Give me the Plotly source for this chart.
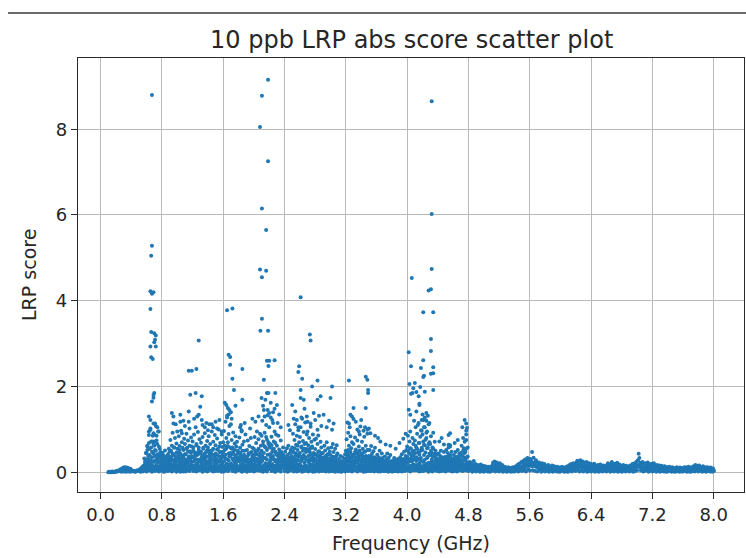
import plotly.graph_objects as go

# ---------------------------------------------------------------------------
# LRP absolute scores along the frequency sweep (GHz)
# ---------------------------------------------------------------------------

# 0.10 - 0.59 GHz: quiet low band
low_freq = [
    0.10, 0.11, 0.12, 0.13, 0.14, 0.15, 0.16, 0.17, 0.18, 0.19,
    0.20, 0.21, 0.22, 0.23, 0.24, 0.25, 0.26, 0.27, 0.28, 0.29,
    0.30, 0.31, 0.32, 0.33, 0.34, 0.35, 0.36, 0.37, 0.38, 0.39,
    0.40, 0.41, 0.42, 0.43, 0.44, 0.45, 0.46, 0.47, 0.48, 0.49,
    0.50, 0.51, 0.52, 0.53, 0.54, 0.55, 0.56, 0.57, 0.58, 0.59,
    0.27, 0.30, 0.33, 0.36, 0.39, 0.52, 0.55, 0.58,
]
low_score = [
    0.00, 0.01, 0.00, 0.01, 0.00, 0.02, 0.01, 0.00, 0.01, 0.02,
    0.01, 0.03, 0.02, 0.04, 0.03, 0.05, 0.07, 0.06, 0.09, 0.08,
    0.11, 0.10, 0.12, 0.09, 0.11, 0.08, 0.10, 0.07, 0.06, 0.08,
    0.05, 0.04, 0.03, 0.02, 0.03, 0.01, 0.02, 0.04, 0.03, 0.05,
    0.04, 0.07, 0.05, 0.09, 0.12, 0.08, 0.15, 0.11, 0.20, 0.18,
    0.01, 0.02, 0.01, 0.02, 0.01, 0.01, 0.02, 0.04,
]

# 0.60 - 4.79 GHz: active band, several readings per frequency step
core_freq = [
    0.60, 0.61, 0.62, 0.63, 0.64, 0.65, 0.66, 0.67, 0.68, 0.69,
    0.70, 0.71, 0.72, 0.73, 0.74, 0.75, 0.76, 0.77, 0.78, 0.79,
    0.80, 0.81, 0.82, 0.83, 0.84, 0.85, 0.86, 0.87, 0.88, 0.89,
    0.90, 0.91, 0.92, 0.93, 0.94, 0.95, 0.96, 0.97, 0.98, 0.99,
    1.00, 1.01, 1.02, 1.03, 1.04, 1.05, 1.06, 1.07, 1.08, 1.09,
    1.10, 1.11, 1.12, 1.13, 1.14, 1.15, 1.16, 1.17, 1.18, 1.19,
    1.20, 1.21, 1.22, 1.23, 1.24, 1.25, 1.26, 1.27, 1.28, 1.29,
    1.30, 1.31, 1.32, 1.33, 1.34, 1.35, 1.36, 1.37, 1.38, 1.39,
    1.40, 1.41, 1.42, 1.43, 1.44, 1.45, 1.46, 1.47, 1.48, 1.49,
    1.50, 1.51, 1.52, 1.53, 1.54, 1.55, 1.56, 1.57, 1.58, 1.59,
    1.60, 1.61, 1.62, 1.63, 1.64, 1.65, 1.66, 1.67, 1.68, 1.69,
    1.70, 1.71, 1.72, 1.73, 1.74, 1.75, 1.76, 1.77, 1.78, 1.79,
    1.80, 1.81, 1.82, 1.83, 1.84, 1.85, 1.86, 1.87, 1.88, 1.89,
    1.90, 1.91, 1.92, 1.93, 1.94, 1.95, 1.96, 1.97, 1.98, 1.99,
    2.00, 2.01, 2.02, 2.03, 2.04, 2.05, 2.06, 2.07, 2.08, 2.09,
    2.10, 2.11, 2.12, 2.13, 2.14, 2.15, 2.16, 2.17, 2.18, 2.19,
    2.20, 2.21, 2.22, 2.23, 2.24, 2.25, 2.26, 2.27, 2.28, 2.29,
    2.30, 2.31, 2.32, 2.33, 2.34, 2.35, 2.36, 2.37, 2.38, 2.39,
    2.40, 2.41, 2.42, 2.43, 2.44, 2.45, 2.46, 2.47, 2.48, 2.49,
    2.50, 2.51, 2.52, 2.53, 2.54, 2.55, 2.56, 2.57, 2.58, 2.59,
    2.60, 2.61, 2.62, 2.63, 2.64, 2.65, 2.66, 2.67, 2.68, 2.69,
    2.70, 2.71, 2.72, 2.73, 2.74, 2.75, 2.76, 2.77, 2.78, 2.79,
    2.80, 2.81, 2.82, 2.83, 2.84, 2.85, 2.86, 2.87, 2.88, 2.89,
    2.90, 2.91, 2.92, 2.93, 2.94, 2.95, 2.96, 2.97, 2.98, 2.99,
    3.00, 3.01, 3.02, 3.03, 3.04, 3.05, 3.06, 3.07, 3.08, 3.09,
    3.10, 3.11, 3.12, 3.13, 3.14, 3.15, 3.16, 3.17, 3.18, 3.19,
    3.20, 3.21, 3.22, 3.23, 3.24, 3.25, 3.26, 3.27, 3.28, 3.29,
    3.30, 3.31, 3.32, 3.33, 3.34, 3.35, 3.36, 3.37, 3.38, 3.39,
    3.40, 3.41, 3.42, 3.43, 3.44, 3.45, 3.46, 3.47, 3.48, 3.49,
    3.50, 3.51, 3.52, 3.53, 3.54, 3.55, 3.56, 3.57, 3.58, 3.59,
    3.60, 3.61, 3.62, 3.63, 3.64, 3.65, 3.66, 3.67, 3.68, 3.69,
    3.70, 3.71, 3.72, 3.73, 3.74, 3.75, 3.76, 3.77, 3.78, 3.79,
    3.80, 3.81, 3.82, 3.83, 3.84, 3.85, 3.86, 3.87, 3.88, 3.89,
    3.90, 3.91, 3.92, 3.93, 3.94, 3.95, 3.96, 3.97, 3.98, 3.99,
    4.00, 4.01, 4.02, 4.03, 4.04, 4.05, 4.06, 4.07, 4.08, 4.09,
    4.10, 4.11, 4.12, 4.13, 4.14, 4.15, 4.16, 4.17, 4.18, 4.19,
    4.20, 4.21, 4.22, 4.23, 4.24, 4.25, 4.26, 4.27, 4.28, 4.29,
    4.30, 4.31, 4.32, 4.33, 4.34, 4.35, 4.36, 4.37, 4.38, 4.39,
    4.40, 4.41, 4.42, 4.43, 4.44, 4.45, 4.46, 4.47, 4.48, 4.49,
    4.50, 4.51, 4.52, 4.53, 4.54, 4.55, 4.56, 4.57, 4.58, 4.59,
    4.60, 4.61, 4.62, 4.63, 4.64, 4.65, 4.66, 4.67, 4.68, 4.69,
    4.70, 4.71, 4.72, 4.73, 4.74, 4.75, 4.76, 4.77, 4.78, 4.79,
]
# lowest reading at each step
core_base = [
    0.02, 0.09, 0.15, 0.04, 0.12, 0.07, 0.17, 0.01, 0.10, 0.06,
    0.13, 0.03, 0.08, 0.16, 0.05, 0.11, 0.02, 0.14, 0.09, 0.18,
    0.06, 0.12, 0.01, 0.09, 0.15, 0.04, 0.10, 0.13, 0.03, 0.08,
    0.11, 0.05, 0.17, 0.02, 0.08, 0.14, 0.06, 0.10, 0.16, 0.01,
    0.04, 0.15, 0.09, 0.12, 0.01, 0.07, 0.18, 0.05, 0.11, 0.13,
    0.16, 0.02, 0.10, 0.06, 0.14, 0.09, 0.03, 0.17, 0.07, 0.12,
    0.08, 0.13, 0.04, 0.11, 0.17, 0.02, 0.09, 0.15, 0.05, 0.10,
    0.14, 0.06, 0.12, 0.01, 0.09, 0.16, 0.04, 0.11, 0.18, 0.07,
    0.03, 0.10, 0.16, 0.07, 0.13, 0.05, 0.12, 0.02, 0.08, 0.15,
    0.12, 0.17, 0.05, 0.14, 0.03, 0.10, 0.07, 0.16, 0.01, 0.09,
    0.07, 0.02, 0.13, 0.09, 0.18, 0.06, 0.11, 0.04, 0.14, 0.10,
    0.15, 0.08, 0.03, 0.12, 0.06, 0.16, 0.01, 0.09, 0.13, 0.05,
    0.05, 0.14, 0.10, 0.17, 0.02, 0.11, 0.08, 0.15, 0.04, 0.12,
    0.10, 0.01, 0.07, 0.13, 0.16, 0.03, 0.14, 0.06, 0.11, 0.17,
    0.02, 0.11, 0.16, 0.05, 0.09, 0.13, 0.04, 0.18, 0.08, 0.03,
    0.13, 0.06, 0.01, 0.15, 0.11, 0.08, 0.17, 0.02, 0.12, 0.14,
    0.09, 0.17, 0.12, 0.03, 0.07, 0.15, 0.05, 0.10, 0.01, 0.06,
    0.16, 0.04, 0.08, 0.11, 0.14, 0.02, 0.09, 0.13, 0.17, 0.11,
    0.03, 0.12, 0.15, 0.07, 0.01, 0.10, 0.16, 0.04, 0.08, 0.13,
    0.11, 0.07, 0.02, 0.14, 0.17, 0.05, 0.12, 0.09, 0.03, 0.15,
    0.06, 0.16, 0.10, 0.01, 0.08, 0.13, 0.03, 0.15, 0.11, 0.07,
    0.12, 0.02, 0.14, 0.09, 0.04, 0.17, 0.07, 0.01, 0.13, 0.10,
    0.17, 0.08, 0.05, 0.12, 0.15, 0.02, 0.10, 0.14, 0.06, 0.03,
    0.04, 0.13, 0.09, 0.16, 0.02, 0.11, 0.15, 0.07, 0.12, 0.08,
    0.10, 0.03, 0.15, 0.06, 0.12, 0.08, 0.01, 0.13, 0.05, 0.14,
    0.02, 0.06, 0.03, 0.08, 0.01, 0.05, 0.09, 0.04, 0.07, 0.02,
    0.08, 0.14, 0.11, 0.03, 0.16, 0.06, 0.12, 0.09, 0.02, 0.13,
    0.15, 0.05, 0.09, 0.13, 0.07, 0.02, 0.11, 0.16, 0.04, 0.10,
    0.04, 0.11, 0.16, 0.01, 0.10, 0.14, 0.06, 0.12, 0.08, 0.03,
    0.12, 0.07, 0.03, 0.10, 0.14, 0.05, 0.09, 0.02, 0.11, 0.08,
    0.06, 0.10, 0.02, 0.12, 0.04, 0.09, 0.13, 0.05, 0.11, 0.03,
    0.03, 0.07, 0.11, 0.05, 0.09, 0.02, 0.12, 0.06, 0.04, 0.10,
    0.08, 0.02, 0.06, 0.10, 0.03, 0.07, 0.05, 0.11, 0.02, 0.09,
    0.04, 0.09, 0.12, 0.02, 0.10, 0.06, 0.13, 0.03, 0.08, 0.11,
    0.10, 0.04, 0.14, 0.07, 0.02, 0.12, 0.09, 0.16, 0.05, 0.11,
    0.06, 0.13, 0.09, 0.17, 0.04, 0.11, 0.02, 0.14, 0.08, 0.12,
    0.14, 0.03, 0.11, 0.07, 0.16, 0.05, 0.10, 0.13, 0.01, 0.09,
    0.05, 0.12, 0.16, 0.02, 0.09, 0.14, 0.06, 0.11, 0.15, 0.03,
    0.11, 0.06, 0.02, 0.13, 0.08, 0.10, 0.15, 0.04, 0.09, 0.12,
    0.02, 0.14, 0.07, 0.11, 0.05, 0.16, 0.09, 0.03, 0.13, 0.08,
    0.13, 0.08, 0.12, 0.04, 0.10, 0.02, 0.14, 0.07, 0.05, 0.11,
    0.07, 0.11, 0.03, 0.15, 0.12, 0.06, 0.09, 0.17, 0.04, 0.13,
]
# floor reading at each step
core_floor = [
    0.05, 0.22, 0.12, 0.31, 0.08, 0.18, 0.27, 0.04, 0.15, 0.24,
    0.10, 0.28, 0.06, 0.19, 0.33, 0.12, 0.25, 0.03, 0.21, 0.14,
    0.05, 0.18, 0.09, 0.24, 0.02, 0.13, 0.20, 0.07, 0.15, 0.11,
    0.08, 0.21, 0.14, 0.30, 0.04, 0.17, 0.26, 0.11, 0.19, 0.06,
    0.13, 0.27, 0.05, 0.20, 0.32, 0.09, 0.23, 0.16, 0.02, 0.25,
    0.07, 0.19, 0.29, 0.12, 0.22, 0.04, 0.17, 0.31, 0.10, 0.24,
    0.16, 0.03, 0.25, 0.11, 0.30, 0.08, 0.21, 0.14, 0.27, 0.06,
    0.09, 0.23, 0.15, 0.28, 0.05, 0.19, 0.33, 0.12, 0.24, 0.02,
    0.18, 0.07, 0.26, 0.13, 0.21, 0.04, 0.29, 0.10, 0.16, 0.23,
    0.03, 0.20, 0.12, 0.27, 0.08, 0.24, 0.15, 0.31, 0.06, 0.18,
    0.14, 0.25, 0.06, 0.32, 0.11, 0.20, 0.03, 0.28, 0.17, 0.09,
    0.21, 0.08, 0.17, 0.29, 0.04, 0.24, 0.13, 0.19, 0.06, 0.27,
    0.11, 0.26, 0.07, 0.18, 0.30, 0.02, 0.22, 0.15, 0.09, 0.25,
    0.05, 0.16, 0.28, 0.10, 0.23, 0.13, 0.04, 0.20, 0.31, 0.08,
    0.17, 0.03, 0.24, 0.12, 0.29, 0.07, 0.19, 0.26, 0.10, 0.22,
    0.09, 0.27, 0.14, 0.33, 0.05, 0.21, 0.12, 0.30, 0.18, 0.07,
    0.23, 0.11, 0.28, 0.06, 0.19, 0.31, 0.14, 0.02, 0.25, 0.16,
    0.08, 0.20, 0.13, 0.26, 0.04, 0.17, 0.29, 0.10, 0.22, 0.15,
    0.12, 0.05, 0.21, 0.16, 0.27, 0.03, 0.19, 0.09, 0.24, 0.14,
    0.06, 0.22, 0.15, 0.30, 0.09, 0.25, 0.02, 0.18, 0.28, 0.11,
    0.19, 0.08, 0.26, 0.13, 0.32, 0.05, 0.22, 0.16, 0.29, 0.04,
    0.14, 0.24, 0.07, 0.20, 0.11, 0.28, 0.03, 0.17, 0.25, 0.10,
    0.02, 0.18, 0.27, 0.09, 0.23, 0.13, 0.30, 0.06, 0.20, 0.15,
    0.11, 0.25, 0.04, 0.19, 0.14, 0.28, 0.08, 0.22, 0.02, 0.17,
    0.07, 0.16, 0.23, 0.03, 0.20, 0.12, 0.26, 0.09, 0.18, 0.05,
    0.03, 0.10, 0.06, 0.15, 0.02, 0.12, 0.08, 0.18, 0.04, 0.11,
    0.13, 0.21, 0.05, 0.28, 0.10, 0.24, 0.16, 0.03, 0.19, 0.26,
    0.08, 0.19, 0.25, 0.12, 0.04, 0.22, 0.15, 0.29, 0.06, 0.17,
    0.20, 0.05, 0.14, 0.26, 0.09, 0.18, 0.02, 0.23, 0.11, 0.16,
    0.07, 0.15, 0.22, 0.03, 0.18, 0.10, 0.25, 0.05, 0.13, 0.20,
    0.04, 0.12, 0.19, 0.08, 0.15, 0.02, 0.21, 0.10, 0.06, 0.17,
    0.09, 0.03, 0.14, 0.18, 0.06, 0.11, 0.02, 0.16, 0.08, 0.13,
    0.02, 0.08, 0.12, 0.05, 0.15, 0.03, 0.10, 0.07, 0.13, 0.04,
    0.06, 0.11, 0.03, 0.15, 0.08, 0.19, 0.04, 0.13, 0.21, 0.09,
    0.12, 0.22, 0.07, 0.28, 0.15, 0.04, 0.25, 0.10, 0.18, 0.30,
    0.17, 0.05, 0.26, 0.11, 0.31, 0.08, 0.21, 0.14, 0.27, 0.03,
    0.10, 0.24, 0.15, 0.29, 0.06, 0.20, 0.33, 0.12, 0.22, 0.08,
    0.19, 0.07, 0.25, 0.13, 0.04, 0.21, 0.16, 0.28, 0.09, 0.11,
    0.05, 0.14, 0.21, 0.08, 0.17, 0.03, 0.12, 0.24, 0.06, 0.16,
    0.09, 0.18, 0.04, 0.23, 0.12, 0.27, 0.07, 0.15, 0.20, 0.02,
    0.11, 0.03, 0.19, 0.14, 0.25, 0.06, 0.17, 0.09, 0.22, 0.13,
    0.07, 0.20, 0.13, 0.26, 0.04, 0.18, 0.29, 0.10, 0.23, 0.16,
]
# middle reading at each step
core_mid = [
    0.30, 0.52, 0.21, 0.68, 0.40, 0.25, 0.58, 0.35, 0.72, 0.44,
    0.62, 0.38, 0.50, 0.27, 0.66, 0.42, 0.33, 0.55, 0.24, 0.39,
    0.18, 0.27, 0.22, 0.31, 0.16, 0.25, 0.20, 0.34, 0.19, 0.28,
    0.35, 0.22, 0.50, 0.30, 0.44, 0.26, 0.58, 0.38, 0.24, 0.46,
    0.28, 0.45, 0.33, 0.52, 0.24, 0.40, 0.31, 0.57, 0.36, 0.26,
    0.42, 0.30, 0.55, 0.25, 0.48, 0.34, 0.62, 0.28, 0.45, 0.37,
    0.35, 0.58, 0.27, 0.46, 0.31, 0.66, 0.40, 0.29, 0.52, 0.43,
    0.30, 0.48, 0.25, 0.39, 0.57, 0.33, 0.44, 0.27, 0.36, 0.51,
    0.37, 0.26, 0.50, 0.32, 0.45, 0.29, 0.41, 0.55, 0.28, 0.34,
    0.44, 0.31, 0.53, 0.27, 0.38, 0.60, 0.33, 0.47, 0.25, 0.40,
    0.48, 0.35, 0.62, 0.41, 0.55, 0.30, 0.70, 0.44, 0.37, 0.58,
    0.40, 0.55, 0.32, 0.47, 0.28, 0.52, 0.36, 0.60, 0.31, 0.43,
    0.33, 0.26, 0.45, 0.38, 0.29, 0.50, 0.24, 0.41, 0.35, 0.30,
    0.25, 0.34, 0.21, 0.40, 0.28, 0.45, 0.23, 0.31, 0.38, 0.27,
    0.36, 0.28, 0.49, 0.32, 0.42, 0.25, 0.55, 0.30, 0.44, 0.34,
    0.50, 0.38, 0.72, 0.45, 0.60, 0.33, 0.82, 0.52, 0.41, 0.66,
    0.58, 0.42, 0.35, 0.63, 0.47, 0.38, 0.55, 0.30, 0.68, 0.44,
    0.40, 0.28, 0.33, 0.45, 0.25, 0.37, 0.30, 0.42, 0.26, 0.34,
    0.22, 0.30, 0.19, 0.26, 0.33, 0.21, 0.28, 0.24, 0.31, 0.20,
    0.34, 0.48, 0.27, 0.56, 0.38, 0.44, 0.30, 0.62, 0.36, 0.41,
    0.45, 0.36, 0.58, 0.31, 0.50, 0.40, 0.66, 0.35, 0.47, 0.54,
    0.50, 0.38, 0.29, 0.55, 0.42, 0.33, 0.60, 0.36, 0.45, 0.31,
    0.30, 0.42, 0.26, 0.36, 0.48, 0.28, 0.39, 0.24, 0.44, 0.33,
    0.27, 0.22, 0.35, 0.29, 0.24, 0.38, 0.26, 0.32, 0.21, 0.30,
    0.25, 0.33, 0.21, 0.36, 0.28, 0.23, 0.31, 0.26, 0.39, 0.24,
    0.14, 0.20, 0.12, 0.22, 0.16, 0.13, 0.19, 0.11, 0.17, 0.24,
    0.32, 0.45, 0.27, 0.52, 0.36, 0.30, 0.48, 0.34, 0.41, 0.25,
    0.40, 0.28, 0.47, 0.33, 0.24, 0.43, 0.31, 0.37, 0.50, 0.26,
    0.29, 0.42, 0.34, 0.25, 0.48, 0.31, 0.38, 0.23, 0.52, 0.35,
    0.24, 0.32, 0.20, 0.36, 0.27, 0.18, 0.30, 0.23, 0.34, 0.21,
    0.18, 0.26, 0.16, 0.23, 0.30, 0.20, 0.15, 0.28, 0.22, 0.17,
    0.16, 0.23, 0.14, 0.20, 0.27, 0.17, 0.22, 0.13, 0.25, 0.15,
    0.13, 0.18, 0.11, 0.21, 0.15, 0.19, 0.12, 0.16, 0.20, 0.14,
    0.16, 0.22, 0.18, 0.27, 0.15, 0.20, 0.30, 0.17, 0.24, 0.32,
    0.36, 0.50, 0.29, 0.43, 0.56, 0.33, 0.26, 0.47, 0.39, 0.31,
    0.44, 0.62, 0.35, 0.54, 0.30, 0.68, 0.41, 0.49, 0.33, 0.57,
    0.52, 0.72, 0.40, 0.63, 0.46, 0.80, 0.56, 0.36, 0.66, 0.43,
    0.40, 0.50, 0.29, 0.36, 0.55, 0.25, 0.43, 0.31, 0.22, 0.27,
    0.20, 0.28, 0.17, 0.25, 0.32, 0.19, 0.23, 0.15, 0.30, 0.21,
    0.23, 0.33, 0.19, 0.29, 0.37, 0.26, 0.40, 0.22, 0.31, 0.18,
    0.18, 0.26, 0.21, 0.30, 0.16, 0.24, 0.33, 0.20, 0.28, 0.25,
    0.29, 0.40, 0.25, 0.50, 0.35, 0.45, 0.31, 0.55, 0.23, 0.37,
]
# upper reading at each step (body of the cloud)
core_body = [
    0.45, 0.62, 0.38, 0.95, 0.55, 1.02, 0.72, 0.48, 0.85, 0.66,
    0.88, 0.52, 1.08, 0.74, 0.41, 0.95, 0.60, 0.35, 0.47, 0.28,
    0.32, 0.45, 0.26, 0.38, 0.51, 0.22, 0.36, 0.29, 0.42, 0.55,
    0.48, 0.75, 0.36, 0.62, 0.92, 0.41, 0.58, 0.80, 0.33, 0.67,
    0.55, 0.38, 0.84, 0.61, 0.44, 0.97, 0.70, 0.35, 0.52, 0.78,
    0.66, 0.42, 0.90, 0.57, 0.74, 0.37, 1.02, 0.49, 0.81, 0.60,
    0.72, 0.50, 0.88, 0.39, 1.05, 0.63, 0.45, 0.94, 0.58, 0.77,
    0.46, 0.69, 0.35, 0.82, 0.55, 0.40, 0.91, 0.62, 0.48, 0.73,
    0.58, 0.84, 0.43, 0.66, 0.37, 0.95, 0.52, 0.71, 0.40, 0.87,
    0.63, 0.41, 0.79, 0.54, 1.00, 0.47, 0.68, 0.36, 0.88, 0.59,
    0.70, 0.96, 0.52, 1.18, 0.80, 1.32, 0.61, 0.89, 1.08, 0.45,
    1.12, 0.75, 0.58, 0.93, 0.42, 0.67, 0.84, 0.38, 0.71, 0.50,
    0.46, 0.81, 0.57, 0.39, 0.95, 0.64, 0.33, 0.72, 0.50, 0.88,
    0.36, 0.52, 0.74, 0.44, 0.61, 0.29, 0.80, 0.47, 0.57, 0.40,
    0.55, 0.82, 0.43, 0.68, 0.95, 0.51, 0.77, 0.38, 0.90, 0.62,
    0.85, 1.20, 0.64, 1.45, 0.92, 0.58, 1.10, 0.76, 1.33, 0.70,
    1.05, 0.66, 1.28, 0.83, 0.54, 1.15, 0.72, 0.95, 0.48, 0.88,
    0.62, 0.41, 0.85, 0.53, 0.36, 0.74, 0.47, 0.30, 0.58, 0.39,
    0.35, 0.48, 0.29, 0.56, 0.40, 0.62, 0.33, 0.45, 0.52, 0.38,
    0.58, 0.90, 0.46, 0.75, 1.12, 0.64, 0.85, 0.52, 0.98, 0.70,
    0.82, 1.05, 0.60, 1.25, 0.73, 0.94, 0.55, 1.16, 0.68, 0.88,
    0.95, 0.63, 0.80, 0.47, 1.06, 0.71, 0.57, 0.88, 0.42, 0.76,
    0.54, 0.78, 0.40, 0.66, 0.86, 0.49, 0.35, 0.71, 0.58, 0.44,
    0.45, 0.33, 0.62, 0.51, 0.38, 0.70, 0.42, 0.56, 0.30, 0.48,
    0.40, 0.58, 0.34, 0.66, 0.47, 0.29, 0.55, 0.37, 0.63, 0.44,
    0.22, 0.31, 0.17, 0.38, 0.26, 0.20, 0.35, 0.14, 0.28, 0.42,
    0.50, 0.77, 0.39, 0.92, 0.62, 0.45, 0.84, 0.56, 0.70, 0.36,
    0.66, 0.42, 0.81, 0.53, 0.35, 0.74, 0.47, 0.60, 0.88, 0.39,
    0.44, 0.71, 0.55, 0.36, 0.83, 0.48, 0.62, 0.30, 0.90, 0.52,
    0.38, 0.52, 0.30, 0.61, 0.43, 0.27, 0.49, 0.35, 0.57, 0.32,
    0.28, 0.41, 0.24, 0.35, 0.50, 0.30, 0.22, 0.44, 0.33, 0.26,
    0.25, 0.37, 0.21, 0.30, 0.44, 0.27, 0.34, 0.19, 0.40, 0.23,
    0.20, 0.27, 0.17, 0.33, 0.22, 0.29, 0.18, 0.24, 0.31, 0.19,
    0.24, 0.35, 0.28, 0.42, 0.22, 0.31, 0.48, 0.26, 0.38, 0.52,
    0.60, 0.85, 0.47, 0.72, 0.95, 0.55, 0.39, 0.80, 0.66, 0.50,
    0.74, 1.05, 0.58, 0.90, 0.46, 1.15, 0.68, 0.83, 0.52, 0.97,
    0.88, 1.22, 0.64, 1.05, 0.76, 1.38, 0.95, 0.57, 1.12, 0.70,
    0.66, 0.84, 0.45, 0.58, 0.92, 0.38, 0.71, 0.50, 0.33, 0.42,
    0.31, 0.44, 0.26, 0.38, 0.50, 0.29, 0.35, 0.22, 0.47, 0.33,
    0.36, 0.52, 0.30, 0.45, 0.58, 0.40, 0.63, 0.34, 0.48, 0.28,
    0.27, 0.40, 0.33, 0.47, 0.24, 0.36, 0.52, 0.30, 0.43, 0.38,
    0.45, 0.62, 0.38, 0.80, 0.55, 0.71, 0.48, 0.88, 0.35, 0.58,
]

# isolated high readings (resonance peaks and sparse scatter)
spread_freq = [
    0.67, 0.67, 0.66, 0.65, 0.69, 0.67, 0.65, 0.66, 0.70, 0.72,
    0.71, 0.70, 0.65, 0.72, 0.66, 0.68, 0.70, 0.69, 0.69, 0.67,
    0.63, 0.65, 0.69, 0.71, 0.65, 0.69, 0.63, 0.71, 0.61, 0.74,
    0.76, 0.73, 0.57, 0.59, 0.60, 0.58,
    0.93, 0.95, 1.04, 1.04, 0.95, 1.15, 1.17, 1.24, 1.32, 1.30,
    1.26, 1.28, 1.15, 1.32, 1.28, 1.15, 1.19, 1.25, 1.06,
    1.42, 1.50, 1.55, 1.47, 1.38,
    1.36, 1.40, 1.45, 1.52, 1.58, 1.33, 1.22, 1.10, 0.98, 1.00, 1.08,
    1.65, 1.72, 1.67, 1.69, 1.69, 1.85, 1.72, 1.74, 1.85, 1.64,
    1.66, 1.68, 1.70, 1.67, 1.65, 1.71, 1.83, 1.84, 1.82, 1.62,
    1.76,
    1.88, 1.95, 2.02, 2.06, 1.98,
    2.185, 2.105, 2.08, 2.185, 2.105, 2.16, 2.08, 2.16, 2.105, 2.105,
    2.085, 2.185, 2.17, 2.19, 2.20, 2.27, 2.13, 2.17, 2.19, 2.28,
    2.30, 2.15, 2.10, 2.12, 2.18, 2.22, 2.25, 2.33, 2.14, 2.24,
    2.31, 2.20, 2.35, 2.27,
    2.61, 2.73, 2.74, 2.59, 2.58, 2.63, 2.83, 2.76, 2.61, 2.61,
    2.50, 2.65, 2.83, 2.87, 3.00, 3.02, 2.54, 2.69, 2.91, 2.74,
    2.56, 2.83, 3.04, 3.02, 2.66, 2.78, 2.95,
    2.45, 2.52, 2.58, 2.62, 2.70, 2.80, 2.88, 2.98, 2.47, 2.85,
    3.24, 3.46, 3.48, 3.49, 3.49, 3.30, 3.46, 3.26, 3.24, 3.48,
    3.52, 3.39, 3.28, 3.30, 3.22, 3.45, 3.43, 3.50, 3.35,
    3.25, 3.33, 3.40, 3.37,
    3.65, 3.72, 3.85, 3.95, 3.90, 3.58, 3.62, 3.78, 3.98,
    4.32, 4.32, 4.32, 4.06, 4.28, 4.31, 4.21, 4.34, 4.02, 4.05,
    4.31, 4.31, 4.21, 4.18, 4.21, 4.22, 4.31, 4.34, 4.34, 4.34,
    4.08, 4.07, 4.12, 4.17, 4.23, 4.10, 4.16, 4.02, 4.04, 4.03,
    4.05, 4.15, 4.16, 4.20, 4.23, 4.25, 4.19, 4.27, 4.14, 4.22,
    4.29, 4.18, 4.25, 4.56, 4.54, 4.56, 4.54, 4.75, 4.77, 4.72,
    4.78, 4.77, 4.77, 4.74, 4.75, 4.09, 4.12,
    4.42, 4.48, 4.62, 4.66, 4.45,
]
spread_score = [
    8.80, 5.28, 5.05, 4.22, 4.20, 4.16, 3.81, 3.27, 3.24, 3.19,
    3.09, 3.03, 2.93, 2.93, 2.68, 2.64, 1.85, 1.80, 1.74, 1.65,
    1.30, 1.22, 1.14, 1.14, 0.99, 0.91, 0.87, 0.72, 0.60, 1.05,
    0.95, 0.85, 0.32, 0.45, 0.28, 0.25,
    1.38, 1.30, 1.34, 1.18, 1.14, 1.42, 1.81, 1.85, 1.77, 1.53,
    1.30, 1.34, 1.18, 1.22, 3.07, 2.37, 2.37, 2.41, 0.91,
    1.12, 1.18, 1.22, 1.05, 1.15,
    1.05, 0.98, 1.12, 1.02, 0.95, 1.10, 1.25, 1.08, 1.12, 0.95, 1.20,
    3.78, 3.82, 2.74, 2.69, 2.51, 2.41, 2.18, 1.92, 1.69, 1.57,
    1.50, 1.45, 1.40, 1.35, 1.28, 1.25, 1.10, 0.98, 1.05, 1.62,
    1.55,
    1.15, 1.02, 1.18, 1.30, 1.25,
    9.15, 8.78, 8.05, 7.25, 6.15, 5.65, 4.73, 4.70, 4.55, 3.58,
    3.30, 3.30, 2.60, 2.48, 2.60, 2.61, 2.16, 1.85, 1.85, 1.85,
    1.57, 1.69, 1.73, 1.55, 1.45, 1.62, 1.40, 1.35, 1.30, 1.22,
    1.15, 1.38, 1.05, 1.48,
    4.08, 3.21, 3.07, 2.47, 2.34, 2.18, 2.14, 2.00, 1.92, 1.73,
    1.57, 1.69, 1.69, 1.77, 1.73, 2.00, 1.42, 1.30, 1.34, 1.14,
    1.22, 0.99, 1.14, 0.99, 1.48, 1.38, 1.05,
    1.10, 1.25, 1.05, 1.28, 1.18, 1.22, 1.08, 1.20, 0.98, 1.32,
    2.14, 2.23, 2.16, 1.92, 1.85, 1.50, 1.50, 1.34, 1.14, 0.99,
    0.91, 1.07, 1.30, 1.24, 1.16, 1.05, 0.97, 1.02, 1.00,
    1.05, 1.18, 1.22, 0.95,
    0.72, 0.65, 0.55, 0.78, 0.68, 0.85, 0.80, 0.62, 0.90,
    8.65, 6.02, 4.74, 4.53, 4.24, 4.27, 3.73, 3.73, 2.80, 2.47,
    3.11, 2.83, 2.61, 2.43, 2.22, 2.25, 2.30, 2.45, 2.31, 1.92,
    1.96, 1.85, 1.87, 1.99, 1.88, 2.08, 1.60, 1.46, 1.34, 2.06,
    1.83, 1.77, 1.57, 1.35, 1.28, 1.20, 1.22, 1.32, 1.10, 1.05,
    1.15, 0.98, 0.92, 0.91, 0.87, 0.60, 0.64, 1.22, 1.14, 1.05,
    1.03, 0.97, 0.75, 0.56, 0.48, 1.20, 1.42,
    0.72, 0.65, 0.68, 0.75, 0.80,
]

# 4.80 - 8.00 GHz: flat tail of the sweep
tail_freq = [
    4.80, 4.81, 4.82, 4.83, 4.84, 4.85, 4.86, 4.87, 4.88, 4.89,
    4.90, 4.91, 4.92, 4.93, 4.94, 4.95, 4.96, 4.97, 4.98, 4.99,
    5.00, 5.01, 5.02, 5.03, 5.04, 5.05, 5.06, 5.07, 5.08, 5.09,
    5.10, 5.11, 5.12, 5.13, 5.14, 5.15, 5.16, 5.17, 5.18, 5.19,
    5.20, 5.21, 5.22, 5.23, 5.24, 5.25, 5.26, 5.27, 5.28, 5.29,
    5.30, 5.31, 5.32, 5.33, 5.34, 5.35, 5.36, 5.37, 5.38, 5.39,
    5.40, 5.41, 5.42, 5.43, 5.44, 5.45, 5.46, 5.47, 5.48, 5.49,
    5.50, 5.51, 5.52, 5.53, 5.54, 5.55, 5.56, 5.57, 5.58, 5.59,
    5.60, 5.61, 5.62, 5.63, 5.64, 5.65, 5.66, 5.67, 5.68, 5.69,
    5.70, 5.71, 5.72, 5.73, 5.74, 5.75, 5.76, 5.77, 5.78, 5.79,
    5.80, 5.81, 5.82, 5.83, 5.84, 5.85, 5.86, 5.87, 5.88, 5.89,
    5.90, 5.91, 5.92, 5.93, 5.94, 5.95, 5.96, 5.97, 5.98, 5.99,
    6.00, 6.01, 6.02, 6.03, 6.04, 6.05, 6.06, 6.07, 6.08, 6.09,
    6.10, 6.11, 6.12, 6.13, 6.14, 6.15, 6.16, 6.17, 6.18, 6.19,
    6.20, 6.21, 6.22, 6.23, 6.24, 6.25, 6.26, 6.27, 6.28, 6.29,
    6.30, 6.31, 6.32, 6.33, 6.34, 6.35, 6.36, 6.37, 6.38, 6.39,
    6.40, 6.41, 6.42, 6.43, 6.44, 6.45, 6.46, 6.47, 6.48, 6.49,
    6.50, 6.51, 6.52, 6.53, 6.54, 6.55, 6.56, 6.57, 6.58, 6.59,
    6.60, 6.61, 6.62, 6.63, 6.64, 6.65, 6.66, 6.67, 6.68, 6.69,
    6.70, 6.71, 6.72, 6.73, 6.74, 6.75, 6.76, 6.77, 6.78, 6.79,
    6.80, 6.81, 6.82, 6.83, 6.84, 6.85, 6.86, 6.87, 6.88, 6.89,
    6.90, 6.91, 6.92, 6.93, 6.94, 6.95, 6.96, 6.97, 6.98, 6.99,
    7.00, 7.01, 7.02, 7.03, 7.04, 7.05, 7.06, 7.07, 7.08, 7.09,
    7.10, 7.11, 7.12, 7.13, 7.14, 7.15, 7.16, 7.17, 7.18, 7.19,
    7.20, 7.21, 7.22, 7.23, 7.24, 7.25, 7.26, 7.27, 7.28, 7.29,
    7.30, 7.31, 7.32, 7.33, 7.34, 7.35, 7.36, 7.37, 7.38, 7.39,
    7.40, 7.41, 7.42, 7.43, 7.44, 7.45, 7.46, 7.47, 7.48, 7.49,
    7.50, 7.51, 7.52, 7.53, 7.54, 7.55, 7.56, 7.57, 7.58, 7.59,
    7.60, 7.61, 7.62, 7.63, 7.64, 7.65, 7.66, 7.67, 7.68, 7.69,
    7.70, 7.71, 7.72, 7.73, 7.74, 7.75, 7.76, 7.77, 7.78, 7.79,
    7.80, 7.81, 7.82, 7.83, 7.84, 7.85, 7.86, 7.87, 7.88, 7.89,
    7.90, 7.91, 7.92, 7.93, 7.94, 7.95, 7.96, 7.97, 7.98, 7.99,
    8.00,
]
tail_score = [
    0.03, 0.18, 0.24, 0.06, 0.21, 0.01, 0.15, 0.26, 0.04, 0.19,
    0.02, 0.14, 0.17, 0.05, 0.12, 0.01, 0.18, 0.09, 0.03, 0.15,
    0.01, 0.11, 0.14, 0.04, 0.09, 0.02, 0.13, 0.07, 0.01, 0.12,
    0.03, 0.16, 0.22, 0.05, 0.25, 0.02, 0.19, 0.23, 0.04, 0.14,
    0.02, 0.21, 0.12, 0.05, 0.17, 0.01, 0.10, 0.13, 0.03, 0.11,
    0.01, 0.09, 0.12, 0.03, 0.10, 0.01, 0.08, 0.11, 0.02, 0.12,
    0.02, 0.11, 0.14, 0.04, 0.17, 0.02, 0.20, 0.15, 0.05, 0.24,
    0.03, 0.22, 0.27, 0.06, 0.30, 0.02, 0.25, 0.33, 0.07, 0.28,
    0.04, 0.31, 0.26, 0.47, 0.05, 0.34, 0.22, 0.03, 0.28, 0.24,
    0.02, 0.20, 0.23, 0.06, 0.17, 0.01, 0.21, 0.14, 0.04, 0.19,
    0.02, 0.15, 0.12, 0.04, 0.17, 0.01, 0.13, 0.10, 0.03, 0.16,
    0.01, 0.12, 0.14, 0.03, 0.09, 0.02, 0.13, 0.08, 0.01, 0.11,
    0.02, 0.10, 0.13, 0.04, 0.08, 0.01, 0.12, 0.09, 0.02, 0.14,
    0.01, 0.13, 0.17, 0.04, 0.19, 0.02, 0.15, 0.21, 0.05, 0.18,
    0.03, 0.23, 0.27, 0.06, 0.24, 0.02, 0.28, 0.20, 0.04, 0.25,
    0.02, 0.22, 0.19, 0.05, 0.24, 0.01, 0.17, 0.21, 0.03, 0.20,
    0.02, 0.18, 0.14, 0.04, 0.20, 0.01, 0.16, 0.12, 0.03, 0.17,
    0.01, 0.15, 0.18, 0.03, 0.13, 0.02, 0.16, 0.11, 0.04, 0.14,
    0.02, 0.17, 0.21, 0.05, 0.15, 0.01, 0.19, 0.24, 0.03, 0.18,
    0.02, 0.20, 0.16, 0.04, 0.22, 0.01, 0.14, 0.18, 0.03, 0.15,
    0.01, 0.14, 0.17, 0.03, 0.12, 0.02, 0.15, 0.10, 0.04, 0.13,
    0.02, 0.16, 0.12, 0.04, 0.19, 0.01, 0.15, 0.21, 0.03, 0.24,
    0.05, 0.28, 0.43, 0.33, 0.22, 0.04, 0.19, 0.24, 0.02, 0.20,
    0.03, 0.21, 0.17, 0.05, 0.23, 0.01, 0.18, 0.14, 0.04, 0.20,
    0.02, 0.18, 0.21, 0.04, 0.15, 0.01, 0.17, 0.12, 0.03, 0.16,
    0.01, 0.13, 0.15, 0.03, 0.10, 0.02, 0.14, 0.09, 0.01, 0.12,
    0.02, 0.11, 0.13, 0.03, 0.08, 0.01, 0.12, 0.10, 0.02, 0.09,
    0.01, 0.10, 0.12, 0.03, 0.08, 0.01, 0.11, 0.07, 0.02, 0.10,
    0.02, 0.09, 0.12, 0.04, 0.11, 0.01, 0.08, 0.13, 0.02, 0.10,
    0.01, 0.12, 0.09, 0.03, 0.14, 0.02, 0.17, 0.11, 0.04, 0.15,
    0.02, 0.16, 0.13, 0.04, 0.11, 0.01, 0.14, 0.09, 0.03, 0.12,
    0.01, 0.10, 0.12, 0.03, 0.08, 0.02, 0.11, 0.07, 0.01, 0.09,
    0.04,
]
# second, mid-band reading across the tail
tail_mid = [
    0.12, 0.09, 0.15, 0.11, 0.07, 0.13, 0.10, 0.16, 0.08, 0.12,
    0.08, 0.06, 0.10, 0.09, 0.05, 0.11, 0.07, 0.12, 0.06, 0.09,
    0.06, 0.05, 0.08, 0.07, 0.04, 0.09, 0.05, 0.10, 0.06, 0.07,
    0.09, 0.12, 0.08, 0.14, 0.11, 0.10, 0.13, 0.09, 0.15, 0.08,
    0.10, 0.07, 0.09, 0.11, 0.06, 0.08, 0.05, 0.07, 0.09, 0.06,
    0.05, 0.06, 0.04, 0.07, 0.05, 0.06, 0.04, 0.06, 0.07, 0.05,
    0.06, 0.07, 0.08, 0.09, 0.08, 0.10, 0.12, 0.09, 0.13, 0.12,
    0.14, 0.12, 0.16, 0.15, 0.18, 0.13, 0.19, 0.17, 0.20, 0.15,
    0.18, 0.16, 0.21, 0.14, 0.19, 0.17, 0.15, 0.18, 0.13, 0.16,
    0.12, 0.10, 0.14, 0.11, 0.09, 0.13, 0.08, 0.11, 0.10, 0.09,
    0.08, 0.07, 0.09, 0.10, 0.06, 0.08, 0.07, 0.06, 0.09, 0.07,
    0.06, 0.07, 0.05, 0.08, 0.06, 0.07, 0.05, 0.06, 0.07, 0.05,
    0.06, 0.05, 0.07, 0.06, 0.05, 0.07, 0.06, 0.05, 0.07, 0.08,
    0.07, 0.08, 0.09, 0.08, 0.10, 0.09, 0.11, 0.10, 0.12, 0.11,
    0.13, 0.14, 0.12, 0.15, 0.13, 0.16, 0.14, 0.12, 0.15, 0.13,
    0.12, 0.11, 0.13, 0.10, 0.12, 0.09, 0.11, 0.10, 0.12, 0.10,
    0.09, 0.10, 0.08, 0.09, 0.11, 0.08, 0.09, 0.07, 0.10, 0.08,
    0.08, 0.07, 0.09, 0.08, 0.06, 0.09, 0.07, 0.08, 0.06, 0.08,
    0.09, 0.08, 0.10, 0.11, 0.09, 0.12, 0.10, 0.11, 0.09, 0.10,
    0.10, 0.11, 0.09, 0.12, 0.10, 0.08, 0.09, 0.10, 0.08, 0.09,
    0.07, 0.08, 0.09, 0.07, 0.06, 0.08, 0.07, 0.06, 0.08, 0.09,
    0.08, 0.09, 0.07, 0.10, 0.09, 0.08, 0.11, 0.10, 0.12, 0.13,
    0.15, 0.14, 0.17, 0.13, 0.12, 0.11, 0.10, 0.12, 0.11, 0.10,
    0.11, 0.10, 0.12, 0.09, 0.11, 0.10, 0.12, 0.09, 0.10, 0.11,
    0.09, 0.10, 0.11, 0.08, 0.09, 0.10, 0.08, 0.07, 0.09, 0.08,
    0.07, 0.06, 0.08, 0.07, 0.05, 0.06, 0.07, 0.05, 0.06, 0.07,
    0.06, 0.05, 0.07, 0.06, 0.05, 0.06, 0.05, 0.06, 0.04, 0.05,
    0.05, 0.06, 0.05, 0.04, 0.06, 0.05, 0.04, 0.05, 0.06, 0.05,
    0.05, 0.04, 0.06, 0.05, 0.06, 0.05, 0.04, 0.06, 0.05, 0.06,
    0.06, 0.07, 0.05, 0.08, 0.07, 0.06, 0.08, 0.07, 0.06, 0.08,
    0.08, 0.09, 0.07, 0.08, 0.06, 0.07, 0.08, 0.06, 0.07, 0.06,
    0.05, 0.06, 0.05, 0.04, 0.06, 0.05, 0.04, 0.05, 0.04, 0.05,
    0.03,
]

# Axis ticks
x_ticks = [0.0, 0.8, 1.6, 2.4, 3.2, 4.0, 4.8, 5.6, 6.4, 7.2, 8.0]
x_tick_labels = ["0.0", "0.8", "1.6", "2.4", "3.2", "4.0", "4.8", "5.6", "6.4", "7.2", "8.0"]
y_ticks = [0, 2, 4, 6, 8]
y_tick_labels = ["0", "2", "4", "6", "8"]

freq = (low_freq + core_freq + core_freq + core_freq + core_freq
        + spread_freq + tail_freq + tail_freq)
score = (low_score + core_base + core_floor + core_mid + core_body
         + spread_score + tail_score + tail_mid)

TEXT = "#262626"
FONT = "DejaVu Sans, Liberation Sans, sans-serif"

fig = go.Figure()
fig.add_trace(go.Scatter(
    x=freq, y=score, mode="markers",
    marker=dict(size=4, color="#1f77b4", line=dict(width=0)),
    hoverinfo="skip", showlegend=False,
))

axis_common = dict(
    showgrid=True, gridcolor="#b9b9b9", gridwidth=1,
    zeroline=False,
    showline=True, linecolor="#2a2a2a", linewidth=1.4, mirror=True,
    ticks="outside", ticklen=6, tickwidth=1.3, tickcolor="#2a2a2a",
    tickfont=dict(family=FONT, size=18, color=TEXT),
)
fig.update_xaxes(range=[-0.295, 8.395], tickmode="array",
                 tickvals=x_ticks, ticktext=x_tick_labels, **axis_common)
fig.update_yaxes(range=[-0.46, 9.66], tickmode="array",
                 tickvals=y_ticks, ticktext=y_tick_labels, **axis_common)

fig.update_layout(
    width=746, height=558,
    margin=dict(l=78, r=2, t=58, b=66),
    paper_bgcolor="white", plot_bgcolor="white",
    font=dict(family=FONT, size=18, color=TEXT),
    shapes=[dict(type="line", xref="paper", yref="paper",
                 x0=-0.105, x1=1.01, y0=1.1037, y1=1.1037,
                 line=dict(color="#3a3a3a", width=1.3))],
    annotations=[
        dict(text="10 ppb LRP abs score scatter plot", xref="paper", yref="paper",
             x=0.5, y=1.0415, xanchor="center", yanchor="middle", showarrow=False,
             font=dict(family=FONT, size=24, color=TEXT)),
        dict(text="Frequency (GHz)", xref="paper", yref="paper",
             x=0.5, y=-0.1175, xanchor="center", yanchor="middle", showarrow=False,
             font=dict(family=FONT, size=19, color=TEXT)),
        dict(text="LRP score", xref="paper", yref="paper",
             x=-0.0736, y=0.5, xanchor="center", yanchor="middle", showarrow=False,
             textangle=-90, font=dict(family=FONT, size=19, color=TEXT)),
    ],
)

fig.write_html("out.html")
